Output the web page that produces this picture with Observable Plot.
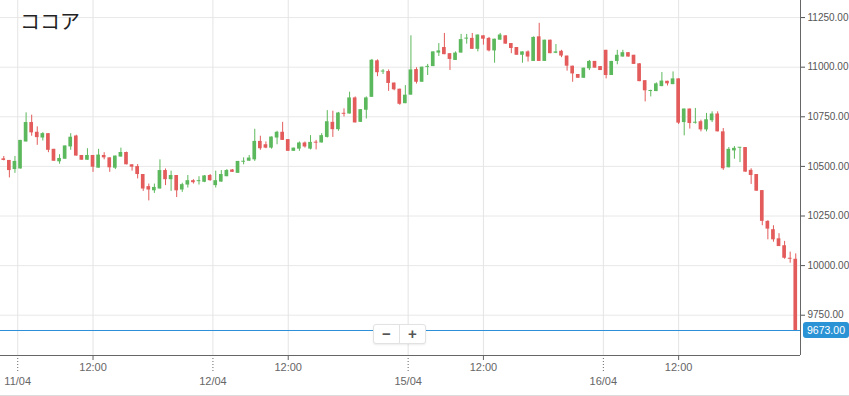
<!DOCTYPE html>
<html><head><meta charset="utf-8">
<script src="https://cdn.jsdelivr.net/npm/d3@7"></script>
<script src="https://cdn.jsdelivr.net/npm/@observablehq/plot@0.6"></script>
<style>
body{margin:0;background:#fff;}
#wrap{position:relative;width:849px;height:396px;overflow:hidden;font-family:"Liberation Sans",Arial,sans-serif;}
#wrap svg{position:absolute;left:0;top:0;}
#title{position:absolute;left:20px;top:9px;font-family:"Noto Sans CJK JP",sans-serif;font-size:20px;line-height:24px;color:#222;}
#price{position:absolute;left:803px;width:46px;height:16px;background:#2a93d5;border-radius:3px;color:#fff;font-size:10.5px;line-height:16px;text-align:center;}
#zoom{position:absolute;left:373px;top:324px;width:51px;height:18px;background:#fff;border:1px solid #e2e2e2;border-radius:3px;box-shadow:0 1px 2px rgba(0,0,0,0.08);display:flex;}
#zoom div{flex:1;text-align:center;font-size:15px;font-weight:bold;line-height:18px;color:#555;}
#zoom div:first-child{border-right:1px solid #e2e2e2;}
#bottomline{position:absolute;left:0;top:395px;width:849px;height:1px;background:#dcdcdc;}
</style></head>
<body>
<div id="wrap">
<div id="chart"></div>
<div id="title">ココア</div>
<div id="zoom"><div>−</div><div>+</div></div>
<div id="price"></div>
<div id="bottomline"></div>
</div>
<script>
const open  = [10538,10530,10484,10487,10623,10721,10672,10643,10665,10586,10523,10536,10598,10653,10555,10531,10555,10491,10555,10543,10491,10547,10570,10508,10499,10459,10398,10377,10386,10479,10433,10454,10381,10406,10428,10423,10420,10454,10403,10421,10448,10482,10465,10521,10526,10533,10626,10609,10592,10643,10672,10635,10576,10587,10618,10587,10621,10618,10646,10722,10685,10766,10764,10845,10722,10783,10848,11032,10976,10978,10920,10889,10816,10859,10988,10924,11000,11003,11071,11099,11068,11034,11071,11143,11145,11090,11158,11145,11082,11136,11158,11119,11099,11060,11077,11029,11153,11029,11136,11070,11080,11056,11005,10963,10944,10992,11029,11003,11085,10958,11029,11051,11073,11060,11017,10932,10879,10877,10902,10929,10912,10941,10721,10789,10719,10725,10684,10730,10764,10674,10493,10578,10593,10595,10480,10459,10378,10223,10181,10135,10100,10037,10032];
const high  = [10550,10530,10550,10631,10770,10758,10699,10670,10665,10586,10559,10603,10665,10657,10555,10589,10555,10586,10569,10543,10552,10592,10572,10508,10509,10459,10411,10411,10533,10487,10476,10454,10415,10454,10433,10448,10454,10459,10476,10479,10484,10484,10525,10543,10555,10687,10652,10623,10648,10677,10722,10635,10592,10623,10623,10655,10631,10665,10781,10778,10772,10790,10874,10850,10786,10850,11039,11037,10988,10986,10920,10889,10907,11158,10997,11000,11014,11077,11119,11170,11068,11077,11165,11165,11170,11162,11158,11150,11141,11170,11158,11119,11099,11077,11082,11153,11221,11136,11136,11114,11085,11056,11005,10963,10995,11034,11029,11003,11085,11029,11085,11085,11073,11060,11017,10932,10884,10921,10973,10929,10976,10941,10789,10789,10792,10733,10767,10775,10775,10691,10595,10600,10595,10595,10488,10459,10378,10226,10201,10161,10122,10068,10059];
const low   = [10528,10442,10465,10487,10623,10652,10606,10628,10569,10526,10511,10536,10581,10552,10531,10531,10470,10491,10533,10470,10484,10547,10508,10476,10437,10374,10326,10364,10386,10403,10374,10343,10369,10391,10411,10406,10418,10425,10391,10420,10448,10470,10465,10508,10526,10525,10581,10589,10587,10609,10631,10576,10576,10576,10592,10583,10583,10618,10643,10646,10677,10749,10764,10719,10722,10739,10848,10952,10963,10878,10881,10808,10816,10859,10915,10924,10958,11003,11054,11063,10983,11034,11071,11116,11090,11077,11111,11077,11020,11136,11116,11068,11060,11020,11026,11029,11029,11029,11068,11068,11048,10980,10924,10944,10944,10983,10995,10983,10941,10958,11012,11051,11051,11014,10927,10825,10850,10877,10902,10905,10912,10711,10654,10688,10713,10674,10674,10721,10674,10480,10493,10536,10519,10471,10409,10375,10201,10130,10118,10096,10032,10012,9673];
const close = [10530,10479,10525,10631,10721,10669,10645,10665,10581,10526,10540,10603,10647,10552,10531,10555,10496,10557,10543,10493,10552,10570,10508,10496,10459,10386,10381,10394,10479,10433,10454,10377,10408,10428,10418,10428,10452,10428,10428,10459,10479,10470,10525,10526,10542,10626,10589,10592,10648,10672,10631,10576,10592,10618,10598,10621,10618,10655,10725,10685,10769,10764,10845,10719,10786,10845,11035,10972,10980,10918,10886,10813,10859,10986,10924,11000,11003,11077,11082,11063,11039,11071,11139,11145,11090,11162,11141,11082,11141,11162,11116,11094,11060,11077,11051,11150,11029,11136,11068,11077,11056,11005,10966,10944,10995,11029,10995,10983,10958,11029,11060,11073,11051,11014,10927,10881,10881,10916,10930,10916,10941,10718,10789,10716,10721,10684,10735,10764,10674,10488,10586,10591,10595,10471,10454,10375,10223,10184,10130,10096,10037,10032,9673];

const dayLabels = ["11/04","12/04","15/04","16/04"];
const dayTickIdx = [2.5,37.5,72.5,107.5];
const noonTickIdx = [16,51,86,121];
const noonLabel = "12:00";
const yTicks = [9750,10000,10250,10500,10750,11000,11250];
const lastPrice = 9673;

const candles = open.map((o,i)=>({i, o, h:high[i], l:low[i], c:close[i], up: close[i] >= o}));
const xDomain = [-0.59, 142.85];
const yDomain = [9547, 11336];
const green = "#5cb85c", red = "#e35b5b";
const bodyHalf = 0.33, minBody = 5;
const bodyLo = d => { const lo=Math.min(d.o,d.c), hi=Math.max(d.o,d.c); return hi-lo<minBody ? (lo+hi)/2-minBody/2 : lo; };
const bodyHi = d => { const lo=Math.min(d.o,d.c), hi=Math.max(d.o,d.c); return hi-lo<minBody ? (lo+hi)/2+minBody/2 : hi; };
const col = d => d.up ? green : red;

const plot = Plot.plot({
  width: 849, height: 396,
  marginLeft: 0, marginRight: 49, marginTop: 0, marginBottom: 41,
  x: {domain: xDomain, axis: null, label: null},
  y: {domain: yDomain, axis: null, label: null},
  style: {fontFamily: '"Liberation Sans", Arial, sans-serif', fontSize: "10px", background: "transparent", overflow: "visible"},
  marks: [
    Plot.gridY(yTicks, {stroke: "#e8e8e8", strokeOpacity: 1}),
    Plot.gridX([...dayTickIdx, ...noonTickIdx], {stroke: "#e4e4e4", strokeOpacity: 1}),
    Plot.ruleY([lastPrice], {stroke: "#2b8fd6", strokeWidth: 1}),
    Plot.ruleX(candles, {x: "i", y1: "l", y2: "h", stroke: col, strokeWidth: 1}),
    Plot.rect(candles, {x1: d => d.i - bodyHalf, x2: d => d.i + bodyHalf, y1: bodyLo, y2: bodyHi, fill: col}),
    Plot.axisY(yTicks, {anchor: "right", label: null, tickFormat: d => d.toFixed(2), tickSize: 4, tickPadding: 3, color: "#555", fontSize: 10}),
    Plot.axisX(noonTickIdx, {anchor: "bottom", label: null, tickFormat: () => noonLabel, tickSize: 5, tickPadding: 3, color: "#666", fontSize: 11}),
    Plot.axisX(dayTickIdx, {anchor: "bottom", label: null, tickFormat: d => dayLabels[dayTickIdx.indexOf(d)], tickSize: 17, tickPadding: 5, color: "#666", fontSize: 11, strokeDasharray: "1,2"}),
    Plot.ruleX([xDomain[1]], {stroke: "#666"}),
    Plot.ruleY([yDomain[0]], {stroke: "#666"})
  ]
});
document.getElementById("chart").appendChild(plot);
const py = plot.scale("y").apply(lastPrice);
const p = document.getElementById("price");
p.textContent = lastPrice.toFixed(2);
p.style.top = (py - 8) + "px";
</script>
</body></html>
